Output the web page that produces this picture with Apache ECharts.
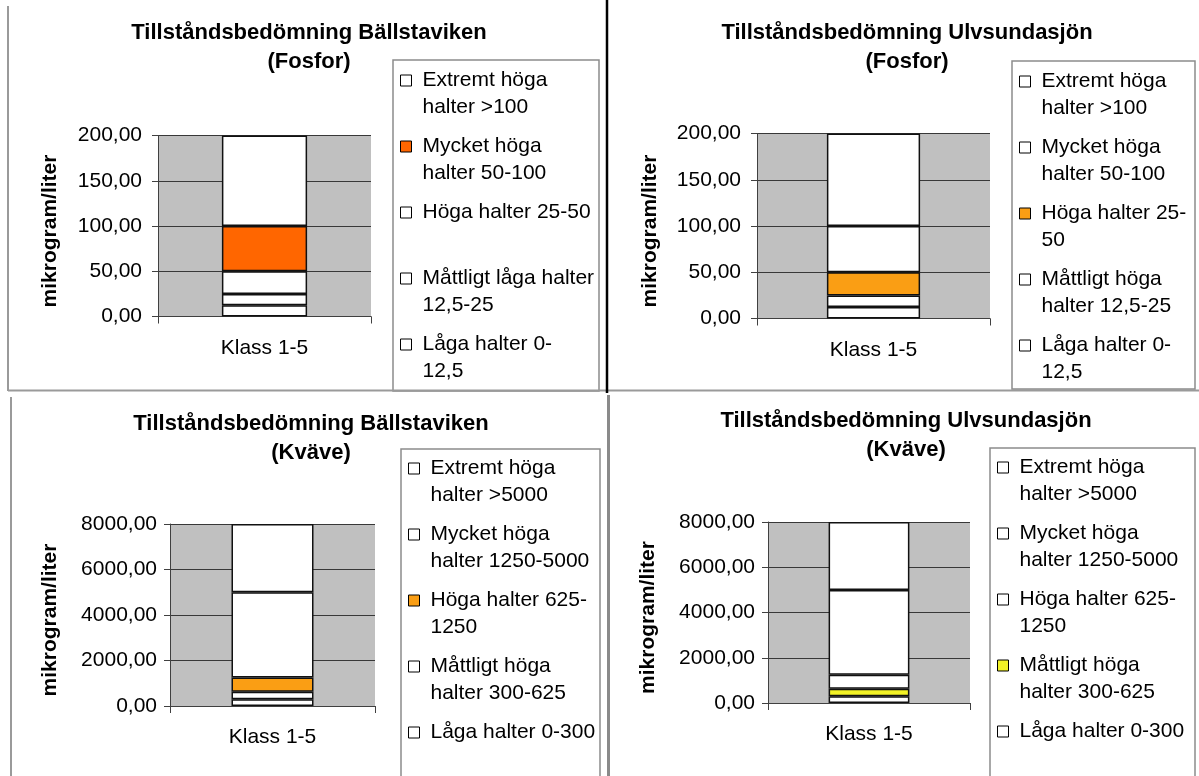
<!DOCTYPE html>
<html>
<head>
<meta charset="utf-8">
<title>Tillståndsbedömning Bällstaviken och Ulvsundasjön</title>
<script src="https://cdn.jsdelivr.net/npm/echarts@6/dist/echarts.min.js"></script>
<style>
  html, body { margin: 0; padding: 0; background: #ffffff; }
  #sida { position: relative; width: 1199px; height: 776px; overflow: hidden; background: #ffffff; }
  .panel { position: absolute; left: 0; top: 0; width: 1199px; height: 776px; }
</style>
</head>
<body>
<div id="sida"></div>
<script>
// ---- Data ----------------------------------------------------------------

// Kategori på x-axeln
const kategorier = ['Klass 1-5'];

// Klassintervallens storlek nedifrån och upp (mikrogram/liter)
const fosforIntervall = [12.5, 12.5, 25, 50, 100];   // 0-12,5 | 12,5-25 | 25-50 | 50-100 | >100 (upp till 200)
const kvaveIntervall = [300, 325, 625, 3750, 3000];  // 0-300 | 300-625 | 625-1250 | 1250-5000 | >5000 (upp till 8000)

// Skalsteg på y-axlarna
const fosforSkala = [0, 50, 100, 150, 200];
const kvaveSkala = [0, 2000, 4000, 6000, 8000];

// Klassnamn i förklaringarna, nedifrån och upp
const ballstavikenFosforKlasser = [
  'Låga halter 0-\n12,5',
  'Måttligt låga halter\n12,5-25',
  'Höga halter 25-50\n ',
  'Mycket höga\nhalter 50-100',
  'Extremt höga\nhalter >100'
];
const ulvsundaFosforKlasser = [
  'Låga halter 0-\n12,5',
  'Måttligt höga\nhalter 12,5-25',
  'Höga halter 25-\n50',
  'Mycket höga\nhalter 50-100',
  'Extremt höga\nhalter >100'
];
const kvaveKlasser = [
  'Låga halter 0-300\n ',
  'Måttligt höga\nhalter 300-625',
  'Höga halter 625-\n1250',
  'Mycket höga\nhalter 1250-5000',
  'Extremt höga\nhalter >5000'
];

// Bedömd klass för respektive sjö och ämne (index i klasslistorna)
const klassBallstavikenFosfor = 3;
const klassUlvsundaFosfor = 2;
const klassBallstavikenKvave = 2;
const klassUlvsundaKvave = 1;

// ---- Utseende ------------------------------------------------------------

const FONT = '"Liberation Sans", Arial, Helvetica, sans-serif';
// Förklaringssymbol: kvadrat i höjd med första textraden
const SYMBOL = 'path://M0,0M17,54M0,8h11v11h-11z';

const paneler = [
  {
    titel: 'Tillståndsbedömning Bällstaviken\n(Fosfor)',
    klasser: ballstavikenFosforKlasser, varden: fosforIntervall, skala: fosforSkala,
    klass: klassBallstavikenFosfor, farg: '#FF6600',
    grid: [158, 135.5, 213, 181], titelPos: [309, 18.5],
    legendPos: [400, 66.5], ruta: [393, 60, 206, 331],
    namnAvstand: 97.5, etikettMarginal: 16
  },
  {
    titel: 'Tillståndsbedömning Ulvsundasjön\n(Fosfor)',
    klasser: ulvsundaFosforKlasser, varden: fosforIntervall, skala: fosforSkala,
    klass: klassUlvsundaFosfor, farg: '#FA9E14',
    grid: [757, 133.5, 233, 185], titelPos: [907, 18.5],
    legendPos: [1019, 67.5], ruta: [1012, 61, 183, 328],
    namnAvstand: 96.5, etikettMarginal: 16
  },
  {
    titel: 'Tillståndsbedömning Bällstaviken\n(Kväve)',
    klasser: kvaveKlasser, varden: kvaveIntervall, skala: kvaveSkala,
    klass: klassBallstavikenKvave, farg: '#FA9E14',
    grid: [170, 524, 205, 182], titelPos: [311, 409.5],
    legendPos: [408, 454.5], ruta: [401, 449, 199, 340],
    namnAvstand: 109.5, etikettMarginal: 13
  },
  {
    titel: 'Tillståndsbedömning Ulvsundasjön\n(Kväve)',
    klasser: kvaveKlasser, varden: kvaveIntervall, skala: kvaveSkala,
    klass: klassUlvsundaKvave, farg: '#F2F226',
    grid: [768, 522, 202, 181], titelPos: [906, 406.5],
    legendPos: [997, 453.5], ruta: [990, 448, 205, 340],
    namnAvstand: 109.5, etikettMarginal: 13
  }
];

// Ramlinjer mellan diagrammen
const ramar = [
  { x1: 8, y1: 6, x2: 8, y2: 391, color: '#9a9a9a', w: 2 },
  { x1: 8, y1: 390.5, x2: 1199, y2: 390.5, color: '#9a9a9a', w: 2 },
  { x1: 607, y1: 0, x2: 607, y2: 393, color: '#000000', w: 2.5 },
  { x1: 11, y1: 397, x2: 11, y2: 776, color: '#9a9a9a', w: 2 },
  { x1: 608.5, y1: 395, x2: 608.5, y2: 776, color: '#8a8a8a', w: 3 }
];

function formatVarde(v) {
  return v.toFixed(2).replace('.', ',');
}

function byggOption(p, medRamar) {
  const skalsteg = p.skala[1] - p.skala[0];
  const grafik = [
    {
      type: 'text',
      x: p.titelPos[0],
      y: p.titelPos[1],
      z: 10,
      style: {
        text: p.titel,
        fontSize: 22,
        fontWeight: 'bold',
        fontFamily: FONT,
        fill: '#000000',
        lineHeight: 29,
        align: 'center',
        textAlign: 'center',
        verticalAlign: 'top',
        textVerticalAlign: 'top'
      }
    },
    {
      type: 'rect',
      z: 1,
      shape: { x: p.ruta[0], y: p.ruta[1], width: p.ruta[2], height: p.ruta[3] },
      style: { fill: 'none', stroke: '#8c8c8c', lineWidth: 1.5 }
    }
  ];
  if (medRamar) {
    ramar.forEach(function (r) {
      grafik.push({
        type: 'line',
        z: 1,
        shape: { x1: r.x1, y1: r.y1, x2: r.x2, y2: r.y2 },
        style: { stroke: r.color, lineWidth: r.w }
      });
    });
  }

  return {
    animation: false,
    textStyle: { fontFamily: FONT },
    graphic: grafik,
    grid: {
      left: p.grid[0], top: p.grid[1], width: p.grid[2], height: p.grid[3],
      show: true, backgroundColor: '#c0c0c0', borderWidth: 0
    },
    legend: {
      orient: 'vertical',
      left: p.legendPos[0],
      top: p.legendPos[1],
      padding: 0,
      itemWidth: 17,
      itemHeight: 54,
      itemGap: 11,
      icon: SYMBOL,
      selectedMode: false,
      itemStyle: { borderColor: '#000000', borderWidth: 1 },
      textStyle: { fontSize: 21, lineHeight: 27, color: '#000000', fontFamily: FONT },
      data: p.klasser.slice().reverse()
    },
    xAxis: {
      type: 'category',
      data: kategorier,
      axisLine: { show: true, lineStyle: { color: '#404040', width: 1 } },
      axisTick: { show: true, length: 7, lineStyle: { color: '#404040' } },
      axisLabel: { fontSize: 21, color: '#000000', margin: 21, fontFamily: FONT },
      splitLine: { show: false }
    },
    yAxis: {
      type: 'value',
      min: p.skala[0],
      max: p.skala[p.skala.length - 1],
      interval: skalsteg,
      name: 'mikrogram/liter',
      nameLocation: 'middle',
      nameRotate: 90,
      nameGap: p.namnAvstand,
      nameTextStyle: {
        fontSize: 21, fontWeight: 'bold', color: '#000000', fontFamily: FONT,
        padding: [0, 10, 0, 0]
      },
      axisLine: { show: true, lineStyle: { color: '#404040', width: 1 } },
      axisTick: { show: true, length: 6, lineStyle: { color: '#404040' } },
      axisLabel: {
        fontSize: 21, color: '#000000', margin: p.etikettMarginal, fontFamily: FONT,
        formatter: formatVarde
      },
      splitLine: { show: true, lineStyle: { color: '#383838', width: 1 } }
    },
    series: p.klasser.map(function (namn, i) {
      return {
        type: 'bar',
        name: namn,
        stack: 'klass',
        barWidth: '40%',
        data: [p.varden[i]],
        itemStyle: {
          color: i === p.klass ? p.farg : '#ffffff',
          borderColor: '#111111',
          borderWidth: 1.5
        },
        emphasis: { disabled: true }
      };
    })
  };
}

const sida = document.getElementById('sida');
paneler.forEach(function (p, idx) {
  const el = document.createElement('div');
  el.className = 'panel';
  sida.appendChild(el);
  const chart = echarts.init(el, null, { renderer: 'canvas', width: 1199, height: 776 });
  chart.setOption(byggOption(p, idx === 0));
});
</script>
</body>
</html>
